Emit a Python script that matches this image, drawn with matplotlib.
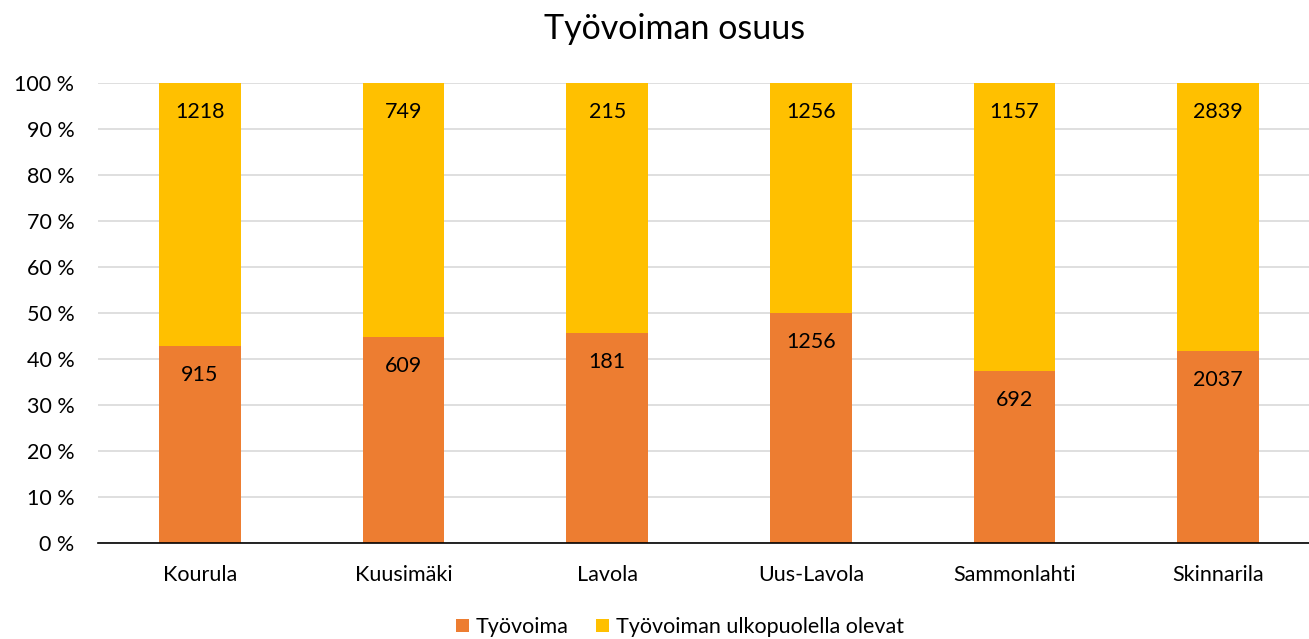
import matplotlib.pyplot as plt
import numpy as np

plt.rcParams['font.family'] = ['Lato', 'DejaVu Sans']

areas = ["Kourula", "Kuusimäki", "Lavola", "Uus-Lavola", "Sammonlahti", "Skinnarila"]
tyovoima = [915, 609, 181, 1256, 692, 2037]
ulkopuolella = [1218, 749, 215, 1256, 1157, 2839]

tv = np.array(tyovoima, dtype=float)
ul = np.array(ulkopuolella, dtype=float)
total = tv + ul
tv_pct = tv / total * 100
ul_pct = ul / total * 100

fig = plt.figure(figsize=(13.09, 6.39), dpi=100)
ax = fig.add_axes([98 / 1309, 0.150, 1222 / 1309, 0.720])

x = np.arange(len(areas))
b1 = ax.bar(x, tv_pct, width=0.4, color="#ED7D31", label="Työvoima", zorder=3)
b2 = ax.bar(x, ul_pct, width=0.4, bottom=tv_pct, color="#FFC000",
            label="Työvoiman ulkopuolella olevat", zorder=3)

# labels at inside end of each segment
for i in range(len(areas)):
    ax.annotate(str(tyovoima[i]), (x[i], tv_pct[i]), xytext=(0, -21),
                textcoords="offset points", ha="center", va="center", fontsize=15.5)
    ax.annotate(str(ulkopuolella[i]), (x[i], 100), xytext=(0, -21),
                textcoords="offset points", ha="center", va="center", fontsize=15.5)

ax.set_xlim(-0.5, len(areas) - 0.5)
ax.set_ylim(0, 100)
ax.set_yticks(np.arange(0, 101, 10))
ax.set_yticklabels([f"{v} %" for v in range(0, 101, 10)])
ax.set_xticks(x)
ax.set_xticklabels(areas)
ax.tick_params(length=0, labelsize=15.5)
ax.tick_params(axis="y", pad=17)
ax.tick_params(axis="x", pad=16)
ax.grid(axis="y", color="#D9D9D9", linewidth=1.2, zorder=0)
for s in ["top", "right", "left"]:
    ax.spines[s].set_visible(False)
ax.spines["bottom"].set_color("#000000")
ax.spines["bottom"].set_linewidth(1.2)
ax.spines["bottom"].set_zorder(4)

fig.text(675 / 1309, 0.955, "Työvoiman osuus", fontsize=24.5, ha="center", va="center")
fig.legend(handles=[b1, b2], loc="center", ncol=2, frameon=False,
           fontsize=15.5, bbox_to_anchor=(680 / 1309, 1 - 627 / 639), handlelength=0.6,
           handleheight=0.6, handletextpad=0.3, columnspacing=1.3)

fig.savefig("out.png", dpi=100)
